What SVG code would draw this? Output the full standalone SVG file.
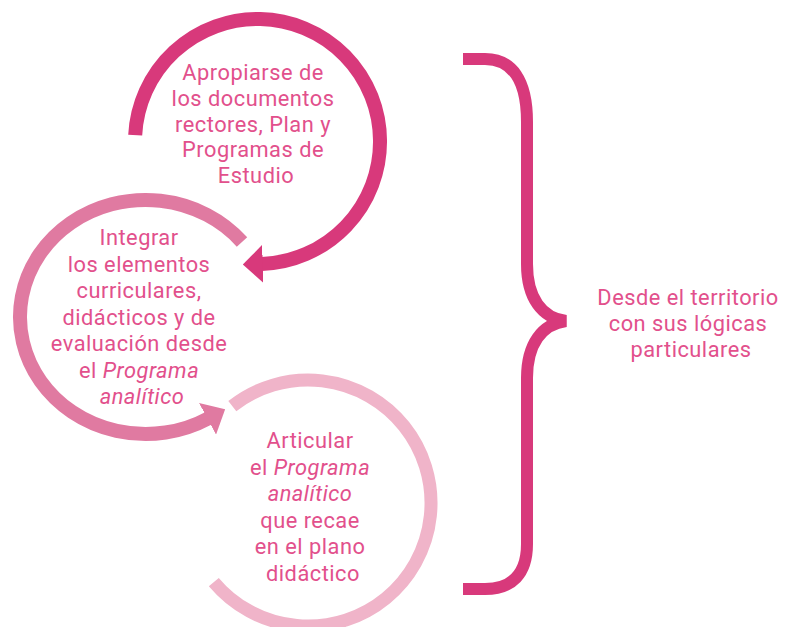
<svg xmlns="http://www.w3.org/2000/svg" width="788" height="627" viewBox="0 0 788 627">
  <style>
    .ring { fill: none; stroke-linecap: butt; }
    .r1 { stroke: #d8397b; stroke-width: 14; }
    .r2 { stroke: #e07aa1; stroke-width: 14; }
    .r3 { stroke: #f0b4c9; stroke-width: 13; }
    .brace { fill: none; stroke: #d8397b; stroke-width: 12; stroke-linejoin: miter; }
    .lbl { font-family: Roboto, "Liberation Sans", sans-serif; font-size: 21.8px; letter-spacing: 0.5px; fill: #e2508c; text-anchor: middle; }
    .it { font-style: italic; }
  </style>
  <defs>
    <marker id="ah1" markerUnits="userSpaceOnUse" viewBox="0 0 20 38" refX="1" refY="19" markerWidth="20" markerHeight="38" orient="auto">
      <path d="M0,0 L20,19 L0,38 Z" fill="#d8397b"/>
    </marker>
    <marker id="ah2" markerUnits="userSpaceOnUse" viewBox="0 0 20 36" refX="1" refY="18" markerWidth="20" markerHeight="36" orient="auto">
      <path d="M0,0 L20,18 L0,36 Z" fill="#e07aa1"/>
    </marker>
  </defs>

  <g id="connectors">
    <path id="ring-apropiarse" class="ring r1" d="M135.2,135.1 A122.5,122.5 0 1 1 261.8,263.9" marker-end="url(#ah1)"/>
    <path id="ring-integrar" class="ring r2" d="M242,242 A125.6,117 0 1 0 208.4,418.3" marker-end="url(#ah2)"/>
    <path id="ring-articular" class="ring r3" d="M232.3,406.1 A123,123 0 1 1 213.8,582.1"/>
  </g>

  <g id="node-apropiarse">
    <text class="lbl">
      <tspan x="256" y="80">Apropiarse de</tspan>
      <tspan x="256" y="105.8">los documentos</tspan>
      <tspan x="256" y="131.6">rectores, Plan y</tspan>
      <tspan x="256" y="157.4">Programas de</tspan>
      <tspan x="256" y="183.2">Estudio</tspan>
    </text>
  </g>

  <g id="node-integrar">
    <text class="lbl">
      <tspan x="142" y="245">Integrar</tspan>
      <tspan x="142" y="271.5">los elementos</tspan>
      <tspan x="142" y="298">curriculares,</tspan>
      <tspan x="142" y="324.5">didácticos y de</tspan>
      <tspan x="142" y="351">evaluación desde</tspan>
      <tspan x="142" y="377.5">el </tspan><tspan class="it">Programa</tspan>
      <tspan x="142" y="404" class="it">analítico</tspan>
    </text>
  </g>

  <g id="node-articular">
    <text class="lbl">
      <tspan x="313" y="448">Articular</tspan>
      <tspan x="313" y="474.5">el </tspan><tspan class="it">Programa</tspan>
      <tspan x="313" y="501" class="it">analítico</tspan>
      <tspan x="313" y="527.5">que recae</tspan>
      <tspan x="313" y="554">en el plano</tspan>
      <tspan x="313" y="580.5">didáctico</tspan>
    </text>
  </g>

  <g id="brace">
    <path class="brace" d="M463,59 H485 C512,59 527,80 527,122 V264 C527,298 542,318 566,321 C542,324 527,344 527,378 V544 C527,574 512,589 485,589 H463"/>
  </g>

  <g id="node-territorio">
    <text class="lbl">
      <tspan x="691" y="305">Desde el territorio</tspan>
      <tspan x="691" y="331">con sus lógicas</tspan>
      <tspan x="691" y="357">particulares</tspan>
    </text>
  </g>
</svg>
